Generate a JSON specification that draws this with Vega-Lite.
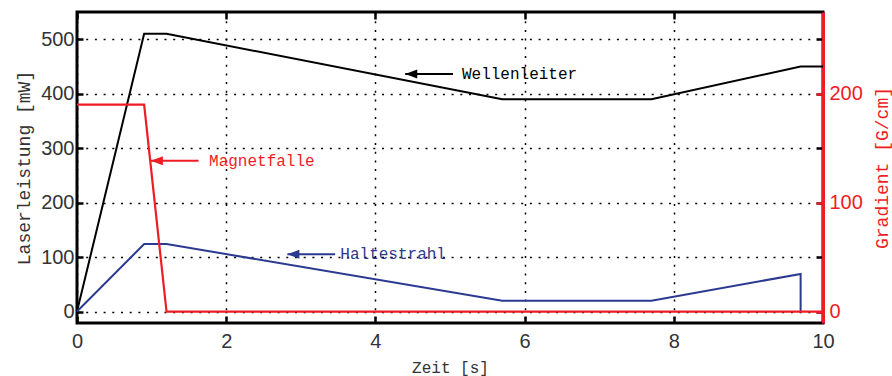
{
  "$schema": "https://vega.github.io/schema/vega-lite/v6.json",
  "width": 746,
  "height": 311,
  "autosize": {"type": "none"},
  "padding": {"left": 77, "top": 12, "right": 69, "bottom": 53},
  "config": {
    "view": {"stroke": "black", "strokeWidth": 3},
    "axis": {
      "labelFont": "Liberation Sans",
      "labelFontSize": 20,
      "labelColor": "#333333",
      "labelFlush": false,
      "titleFont": "Liberation Mono",
      "titleFontSize": 16,
      "titleFontWeight": "normal",
      "titleColor": "#333333",
      "tickColor": "black",
      "tickWidth": 2.5,
      "gridColor": "black",
      "gridDash": [2, 6.7],
      "gridWidth": 1.5,
      "gridOpacity": 1
    }
  },
  "datasets": {
    "power": [
      {"series": "Wellenleiter", "i": 0, "t": 0, "p": 0},
      {"series": "Wellenleiter", "i": 1, "t": 0.9, "p": 510},
      {"series": "Wellenleiter", "i": 2, "t": 1.2, "p": 510},
      {"series": "Wellenleiter", "i": 3, "t": 5.7, "p": 390},
      {"series": "Wellenleiter", "i": 4, "t": 7.7, "p": 390},
      {"series": "Wellenleiter", "i": 5, "t": 9.7, "p": 450},
      {"series": "Wellenleiter", "i": 6, "t": 10, "p": 450},
      {"series": "Haltestrahl", "i": 0, "t": 0, "p": 0},
      {"series": "Haltestrahl", "i": 1, "t": 0.9, "p": 124},
      {"series": "Haltestrahl", "i": 2, "t": 1.2, "p": 124},
      {"series": "Haltestrahl", "i": 3, "t": 5.7, "p": 20},
      {"series": "Haltestrahl", "i": 4, "t": 7.7, "p": 20},
      {"series": "Haltestrahl", "i": 5, "t": 9.7, "p": 69},
      {"series": "Haltestrahl", "i": 6, "t": 9.7, "p": 0}
    ],
    "gradient": [
      {"t": 0, "g": 190},
      {"t": 0.9, "g": 190},
      {"t": 1.2, "g": 0},
      {"t": 10, "g": 0}
    ],
    "notes": [
      {"series": "Wellenleiter", "t_tip": 4.4, "t_tail": 5.04, "t_text": 5.16, "p": 436},
      {"series": "Magnetfalle", "t_tip": 0.99, "t_tail": 1.63, "t_text": 1.77, "p": 277},
      {"series": "Haltestrahl", "t_tip": 2.82, "t_tail": 3.46, "t_text": 3.53, "p": 105}
    ]
  },
  "layer": [
    {
      "layer": [
        {
          "data": {"name": "power"},
          "mark": {"type": "line", "strokeWidth": 2},
          "encoding": {
            "x": {
              "field": "t", "type": "quantitative",
              "scale": {"domain": [0, 10], "nice": false},
              "axis": {
                "orient": "bottom", "title": "Zeit [s]", "values": [0, 2, 4, 6, 8, 10],
                "grid": true, "domain": false, "tickSize": -7, "labelPadding": 15,
                "titlePadding": 8
              }
            },
            "y": {
              "field": "p", "type": "quantitative",
              "scale": {"domain": [-21, 550], "nice": false, "zero": false},
              "axis": {
                "orient": "left", "title": "Laserleistung [mW]",
                "values": [0, 100, 200, 300, 400, 500],
                "grid": true, "domain": false, "tickSize": -6, "labelPadding": 9,
                "titlePadding": 7, "titleFontSize": 18
              }
            },
            "color": {
              "field": "series", "type": "nominal", "legend": null,
              "scale": {"domain": ["Wellenleiter", "Haltestrahl", "Magnetfalle"], "range": ["#000000", "#2b3990", "#ee1c25"]}
            },
            "order": {"field": "i", "type": "quantitative"}
          }
        },
        {
          "data": {"name": "notes"},
          "mark": {"type": "rule", "strokeWidth": 2},
          "encoding": {
            "x": {
              "field": "t_tip", "type": "quantitative",
              "axis": {
                "orient": "top", "title": null, "values": [0, 2, 4, 6, 8, 10],
                "labels": false, "grid": false, "domain": false, "tickSize": -7
              }
            },
            "x2": {"field": "t_tail"},
            "y": {
              "field": "p", "type": "quantitative",
              "axis": {
                "orient": "right", "title": null, "values": [0, 100, 200, 300, 400, 500],
                "labels": false, "grid": false, "domain": false, "tickSize": -7
              }
            },
            "color": {
              "field": "series", "type": "nominal", "legend": null,
              "scale": {"domain": ["Wellenleiter", "Haltestrahl", "Magnetfalle"], "range": ["#000000", "#2b3990", "#ee1c25"]}
            }
          }
        },
        {
          "data": {"name": "notes"},
          "mark": {"type": "point", "shape": "M0,0L2,-0.75L2,0.75Z", "filled": true, "opacity": 1, "size": 144},
          "encoding": {
            "x": {"field": "t_tip", "type": "quantitative", "axis": null},
            "y": {"field": "p", "type": "quantitative", "axis": null},
            "color": {
              "field": "series", "type": "nominal", "legend": null,
              "scale": {"domain": ["Wellenleiter", "Haltestrahl", "Magnetfalle"], "range": ["#000000", "#2b3990", "#ee1c25"]}
            }
          }
        },
        {
          "data": {"name": "notes"},
          "mark": {"type": "text", "align": "left", "baseline": "middle", "font": "Liberation Mono", "fontSize": 16},
          "encoding": {
            "x": {"field": "t_text", "type": "quantitative", "axis": null},
            "y": {"field": "p", "type": "quantitative", "axis": null},
            "text": {"field": "series"},
            "color": {
              "field": "series", "type": "nominal", "legend": null,
              "scale": {"domain": ["Wellenleiter", "Haltestrahl", "Magnetfalle"], "range": ["#333333", "#2b3990", "#ee1c25"]}
            }
          }
        }
      ],
      "resolve": {"axis": {"x": "independent", "y": "independent"}}
    },
    {
      "data": {"name": "gradient"},
      "mark": {"type": "line", "strokeWidth": 2.2, "color": "#ee1c25"},
      "encoding": {
        "x": {"field": "t", "type": "quantitative", "axis": null},
        "y": {
          "field": "g", "type": "quantitative",
          "scale": {"domain": [-10.5, 275], "nice": false, "zero": false},
          "axis": {
            "orient": "right", "title": "Gradient [G/cm]", "values": [0, 100, 200],
            "grid": false, "domain": true, "domainColor": "#ee1c25", "domainWidth": 3,
            "tickColor": "#ee1c25", "tickSize": -7, "labelColor": "#ee1c25",
            "labelPadding": 13, "titleColor": "#ee1c25", "titlePadding": 11,
            "titleAngle": 270, "titleBaseline": "top", "titleFontSize": 18
          }
        }
      }
    }
  ],
  "resolve": {"scale": {"y": "independent"}, "axis": {"x": "independent", "y": "independent"}}
}
